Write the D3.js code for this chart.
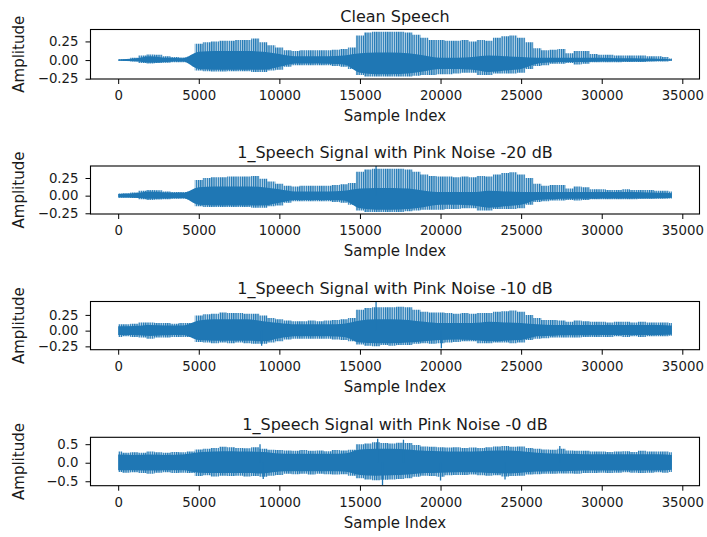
<!DOCTYPE html>
<html>
<head>
<meta charset="utf-8">
<script src="https://cdn.jsdelivr.net/npm/d3@7/dist/d3.min.js"></script>
<style>
  body { margin: 0; background: #fff; }
  text { font-family: "DejaVu Sans", sans-serif; fill: #1a1a1a; }
</style>
</head>
<body>
<svg id="chart" width="707" height="537"></svg>
<script>
// signal length in samples
const nSamples = 34350;

// envelope read every 500 samples (last point = end of signal)
const envIdx = [...d3.range(0, 34001, 500), 34350];
// dense core read every 1000 samples
const coreIdx = [...d3.range(0, 34001, 1000), 34350];

const titles = [
  'Clean Speech',
  '1_Speech Signal with Pink Noise -20 dB',
  '1_Speech Signal with Pink Noise -10 dB',
  '1_Speech Signal with Pink Noise -0 dB'
];

const xTicks = [0, 5000, 10000, 15000, 20000, 25000, 30000, 35000];
const yTicksSmall = [-0.25, 0, 0.25];
const yTicksLarge = [-0.5, 0, 0.5];

// --- Clean Speech
const cleanHi = [0.01, 0.012, 0.03, 0.06, 0.075, 0.07, 0.05, 0.04, 0.035, 0.045,
  0.22, 0.24, 0.25, 0.26, 0.26, 0.27, 0.27, 0.29, 0.24, 0.2,
  0.17, 0.13, 0.12, 0.13, 0.13, 0.13, 0.13, 0.14, 0.15, 0.17,
  0.33, 0.37, 0.38, 0.38, 0.38, 0.38, 0.37, 0.34, 0.3, 0.27,
  0.27, 0.26, 0.26, 0.27, 0.25, 0.27, 0.26, 0.3, 0.32, 0.33,
  0.3, 0.24, 0.16, 0.13, 0.14, 0.15, 0.09, 0.12, 0.12, 0.08,
  0.07, 0.07, 0.06, 0.06, 0.06, 0.06, 0.05, 0.05, 0.04, 0.02];
const cleanLo = [-0.01, -0.012, -0.02, -0.04, -0.045, -0.04, -0.035, -0.03, -0.03, -0.035,
  -0.14, -0.15, -0.155, -0.155, -0.15, -0.15, -0.15, -0.16, -0.16, -0.14,
  -0.13, -0.09, -0.07, -0.07, -0.07, -0.07, -0.07, -0.08, -0.09, -0.12,
  -0.2, -0.22, -0.22, -0.22, -0.22, -0.22, -0.22, -0.21, -0.2, -0.2,
  -0.19, -0.19, -0.18, -0.17, -0.17, -0.2, -0.2, -0.18, -0.18, -0.18,
  -0.17, -0.12, -0.08, -0.07, -0.05, -0.05, -0.04, -0.06, -0.05, -0.03,
  -0.03, -0.03, -0.03, -0.025, -0.025, -0.025, -0.02, -0.02, -0.02, -0.01];
const cleanCoreHi = [0.008, 0.02, 0.05, 0.03, 0.025, 0.11, 0.12, 0.12, 0.12, 0.11,
  0.08, 0.05, 0.05, 0.05, 0.06, 0.09, 0.1, 0.1, 0.09, 0.06,
  0.03, 0.03, 0.04, 0.06, 0.05, 0.04, 0.03, 0.03, 0.03, 0.03,
  0.03, 0.025, 0.025, 0.02, 0.015, 0.01];
const cleanCoreLo = [-0.008, -0.015, -0.035, -0.025, -0.02, -0.12, -0.13, -0.13, -0.13, -0.13,
  -0.09, -0.045, -0.045, -0.05, -0.06, -0.17, -0.19, -0.19, -0.18, -0.15,
  -0.12, -0.12, -0.13, -0.16, -0.14, -0.12, -0.05, -0.03, -0.025, -0.025,
  -0.02, -0.02, -0.02, -0.015, -0.01, -0.008];
const cleanSpikes = [];

// --- Pink noise -20 dB
const n20Hi = [0.03, 0.035, 0.045, 0.07, 0.08, 0.075, 0.06, 0.05, 0.05, 0.055,
  0.22, 0.25, 0.26, 0.26, 0.27, 0.27, 0.27, 0.28, 0.24, 0.2,
  0.17, 0.14, 0.13, 0.14, 0.14, 0.14, 0.14, 0.15, 0.16, 0.18,
  0.34, 0.37, 0.38, 0.38, 0.38, 0.38, 0.37, 0.34, 0.3, 0.28,
  0.27, 0.27, 0.26, 0.27, 0.26, 0.28, 0.27, 0.3, 0.32, 0.33,
  0.3, 0.25, 0.17, 0.14, 0.15, 0.15, 0.1, 0.13, 0.12, 0.09,
  0.09, 0.08, 0.08, 0.09, 0.08, 0.08, 0.08, 0.07, 0.07, 0.06];
const n20Lo = [-0.03, -0.03, -0.035, -0.05, -0.06, -0.055, -0.05, -0.045, -0.045, -0.05,
  -0.15, -0.16, -0.16, -0.16, -0.16, -0.16, -0.16, -0.17, -0.17, -0.15,
  -0.14, -0.1, -0.08, -0.08, -0.08, -0.08, -0.08, -0.09, -0.1, -0.13,
  -0.21, -0.23, -0.23, -0.23, -0.23, -0.23, -0.22, -0.21, -0.2, -0.2,
  -0.2, -0.19, -0.19, -0.18, -0.18, -0.21, -0.21, -0.19, -0.19, -0.19,
  -0.18, -0.13, -0.09, -0.08, -0.07, -0.07, -0.06, -0.07, -0.06, -0.05,
  -0.05, -0.05, -0.05, -0.05, -0.05, -0.045, -0.045, -0.045, -0.045, -0.04];
const n20CoreHi = [0.025, 0.035, 0.06, 0.045, 0.04, 0.12, 0.13, 0.13, 0.13, 0.12,
  0.09, 0.06, 0.06, 0.06, 0.07, 0.1, 0.11, 0.11, 0.1, 0.07,
  0.05, 0.05, 0.05, 0.07, 0.06, 0.05, 0.05, 0.05, 0.05, 0.05,
  0.05, 0.05, 0.05, 0.045, 0.04, 0.035];
const n20CoreLo = [-0.025, -0.03, -0.045, -0.04, -0.035, -0.13, -0.14, -0.14, -0.14, -0.14,
  -0.1, -0.06, -0.06, -0.06, -0.07, -0.18, -0.2, -0.2, -0.19, -0.16,
  -0.13, -0.13, -0.14, -0.17, -0.15, -0.13, -0.06, -0.05, -0.045, -0.045,
  -0.04, -0.04, -0.04, -0.04, -0.035, -0.03];
const n20Spikes = [[16000, 0.42]];

// --- Pink noise -10 dB
const n10Hi = [0.1, 0.1, 0.11, 0.13, 0.13, 0.12, 0.12, 0.11, 0.12, 0.12,
  0.24, 0.26, 0.27, 0.29, 0.28, 0.28, 0.27, 0.27, 0.24, 0.2,
  0.18, 0.16, 0.15, 0.15, 0.16, 0.15, 0.16, 0.17, 0.18, 0.2,
  0.33, 0.36, 0.37, 0.37, 0.37, 0.38, 0.37, 0.33, 0.3, 0.29,
  0.29, 0.28, 0.27, 0.28, 0.27, 0.28, 0.28, 0.3, 0.31, 0.32,
  0.3, 0.25, 0.2, 0.17, 0.17, 0.16, 0.14, 0.16, 0.15, 0.14,
  0.14, 0.13, 0.14, 0.14, 0.13, 0.14, 0.13, 0.13, 0.13, 0.12];
const n10Lo = [-0.1, -0.09, -0.1, -0.11, -0.13, -0.11, -0.11, -0.1, -0.1, -0.1,
  -0.18, -0.19, -0.2, -0.19, -0.2, -0.19, -0.2, -0.21, -0.21, -0.19,
  -0.17, -0.14, -0.13, -0.13, -0.13, -0.13, -0.13, -0.14, -0.15, -0.17,
  -0.22, -0.24, -0.25, -0.23, -0.24, -0.23, -0.23, -0.21, -0.2, -0.21,
  -0.2, -0.19, -0.18, -0.17, -0.17, -0.2, -0.2, -0.19, -0.19, -0.2,
  -0.19, -0.15, -0.13, -0.12, -0.11, -0.11, -0.11, -0.11, -0.1, -0.1,
  -0.1, -0.1, -0.09, -0.1, -0.09, -0.1, -0.09, -0.09, -0.09, -0.08];
const n10CoreHi = [0.07, 0.075, 0.09, 0.08, 0.08, 0.16, 0.18, 0.18, 0.18, 0.15,
  0.12, 0.1, 0.1, 0.1, 0.11, 0.16, 0.18, 0.18, 0.17, 0.14,
  0.12, 0.12, 0.12, 0.14, 0.13, 0.12, 0.1, 0.09, 0.09, 0.09,
  0.09, 0.09, 0.09, 0.09, 0.085, 0.08];
const n10CoreLo = [-0.07, -0.07, -0.085, -0.075, -0.07, -0.15, -0.16, -0.16, -0.16, -0.17,
  -0.12, -0.09, -0.09, -0.09, -0.1, -0.19, -0.2, -0.2, -0.19, -0.17,
  -0.15, -0.14, -0.15, -0.17, -0.16, -0.15, -0.09, -0.08, -0.075, -0.075,
  -0.07, -0.07, -0.07, -0.07, -0.065, -0.06];
const n10Spikes = [[16000, 0.46], [8900, -0.24], [20050, -0.28]];

// --- Pink noise -0 dB
const n0Hi = [0.3, 0.27, 0.28, 0.27, 0.3, 0.28, 0.27, 0.29, 0.28, 0.3,
  0.36, 0.38, 0.4, 0.43, 0.42, 0.4, 0.39, 0.42, 0.38, 0.35,
  0.34, 0.33, 0.32, 0.34, 0.32, 0.33, 0.31, 0.34, 0.33, 0.35,
  0.5, 0.52, 0.55, 0.53, 0.52, 0.54, 0.53, 0.48, 0.44, 0.43,
  0.42, 0.41, 0.42, 0.4, 0.41, 0.4, 0.42, 0.44, 0.45, 0.43,
  0.44, 0.4, 0.38, 0.36, 0.35, 0.38, 0.33, 0.32, 0.32, 0.3,
  0.3, 0.29, 0.3, 0.31, 0.29, 0.32, 0.3, 0.3, 0.3, 0.28];
const n0Lo = [-0.25, -0.27, -0.26, -0.28, -0.3, -0.27, -0.26, -0.28, -0.27, -0.28,
  -0.36, -0.34, -0.37, -0.35, -0.36, -0.35, -0.37, -0.36, -0.38, -0.35,
  -0.33, -0.3, -0.31, -0.3, -0.32, -0.3, -0.31, -0.32, -0.31, -0.35,
  -0.42, -0.45, -0.47, -0.46, -0.45, -0.44, -0.42, -0.38, -0.35, -0.36,
  -0.38, -0.34, -0.33, -0.33, -0.32, -0.34, -0.35, -0.34, -0.37, -0.36,
  -0.35, -0.32, -0.31, -0.3, -0.3, -0.29, -0.29, -0.3, -0.28, -0.28,
  -0.27, -0.28, -0.27, -0.26, -0.27, -0.28, -0.27, -0.26, -0.27, -0.25];
const n0CoreHi = [0.22, 0.21, 0.22, 0.21, 0.22, 0.28, 0.3, 0.31, 0.3, 0.29,
  0.25, 0.24, 0.24, 0.24, 0.25, 0.36, 0.38, 0.38, 0.36, 0.32,
  0.31, 0.3, 0.3, 0.32, 0.33, 0.31, 0.27, 0.25, 0.24, 0.23,
  0.23, 0.23, 0.23, 0.23, 0.22, 0.21];
const n0CoreLo = [-0.2, -0.2, -0.21, -0.2, -0.2, -0.27, -0.28, -0.28, -0.28, -0.29,
  -0.24, -0.23, -0.23, -0.23, -0.24, -0.33, -0.35, -0.34, -0.32, -0.28,
  -0.27, -0.26, -0.26, -0.28, -0.29, -0.27, -0.24, -0.23, -0.22, -0.21,
  -0.21, -0.21, -0.21, -0.21, -0.2, -0.19];
const n0Spikes = [[8800, 0.5], [16100, 0.65], [17700, 0.62], [16400, -0.6],
  [9000, -0.44], [20000, -0.48], [24000, -0.45], [27400, 0.45]];

const panels = [
  { title: titles[0], top: 29.5, bottom: 79, yDomain: [-0.254, 0.41], yTicks: yTicksSmall, fmt: '.2f',
    hi: cleanHi, lo: cleanLo, coreHi: cleanCoreHi, coreLo: cleanCoreLo, spikes: cleanSpikes },
  { title: titles[1], top: 166, bottom: 214, yDomain: [-0.26, 0.42], yTicks: yTicksSmall, fmt: '.2f',
    hi: n20Hi, lo: n20Lo, coreHi: n20CoreHi, coreLo: n20CoreLo, spikes: n20Spikes },
  { title: titles[2], top: 301.5, bottom: 349.7, yDomain: [-0.303, 0.463], yTicks: yTicksSmall, fmt: '.2f',
    hi: n10Hi, lo: n10Lo, coreHi: n10CoreHi, coreLo: n10CoreLo, spikes: n10Spikes },
  { title: titles[3], top: 437.3, bottom: 485.7, yDomain: [-0.62, 0.686], yTicks: yTicksLarge, fmt: '.1f',
    hi: n0Hi, lo: n0Lo, coreHi: n0CoreHi, coreLo: n0CoreLo, spikes: n0Spikes }
];

const LEFT = 90.5, RIGHT = 699.5;
const BLUE = '#1f77b4';

const svg = d3.select('#chart');

// vertical stripes to imitate the pitch pulses
const defs = svg.append('defs');
const pat = defs.append('pattern')
  .attr('id', 'stripes')
  .attr('patternUnits', 'userSpaceOnUse')
  .attr('width', 2.2)
  .attr('height', 10);
pat.append('rect').attr('width', 2.2).attr('height', 10).attr('fill', BLUE).attr('fill-opacity', 0.3);
pat.append('rect').attr('width', 1.2).attr('height', 10).attr('fill', BLUE);

const xPad = 0.05 * (nSamples - 1);
const x = d3.scaleLinear()
  .domain([-xPad, nSamples - 1 + xPad])
  .range([LEFT, RIGHT]);

panels.forEach((p, k) => {
  const y = d3.scaleLinear().domain(p.yDomain).range([p.bottom, p.top]);
  const g = svg.append('g');

  defs.append('clipPath').attr('id', 'clip' + k)
    .append('rect')
    .attr('x', LEFT).attr('y', p.top)
    .attr('width', RIGHT - LEFT).attr('height', p.bottom - p.top);

  const plot = g.append('g').attr('clip-path', `url(#clip${k})`);

  const env = d3.area()
    .x((d, i) => x(envIdx[i]))
    .y0((d, i) => y(p.lo[i]))
    .y1((d, i) => y(p.hi[i]))
    .curve(d3.curveStep);
  plot.append('path')
    .datum(p.hi)
    .attr('d', env)
    .attr('fill', 'url(#stripes)');

  const core = d3.area()
    .x((d, i) => x(coreIdx[i]))
    .y0((d, i) => y(p.coreLo[i]))
    .y1((d, i) => y(p.coreHi[i]))
    .curve(d3.curveMonotoneX);
  plot.append('path')
    .datum(p.coreHi)
    .attr('d', core)
    .attr('fill', BLUE);

  // single peaks that stick out of the envelope
  plot.selectAll('line.spike')
    .data(p.spikes)
    .join('line')
    .attr('class', 'spike')
    .attr('x1', d => x(d[0])).attr('x2', d => x(d[0]))
    .attr('y1', y(0)).attr('y2', d => y(d[1]))
    .attr('stroke', BLUE).attr('stroke-width', 1.3);

  // axes
  const xAxis = d3.axisBottom(x).tickValues(xTicks).tickFormat(d3.format('d'))
    .tickSize(5).tickPadding(6.5).tickSizeOuter(0);
  const gx = g.append('g').attr('transform', `translate(0,${p.bottom})`).call(xAxis);
  gx.select('.domain').remove();

  const yAxis = d3.axisLeft(y).tickValues(p.yTicks).tickFormat(d3.format(p.fmt))
    .tickSize(5).tickPadding(7).tickSizeOuter(0);
  const gy = g.append('g').attr('transform', `translate(${LEFT},0)`).call(yAxis);
  gy.select('.domain').remove();

  [gx, gy].forEach(a => {
    a.selectAll('text').attr('font-size', 13.3).attr('font-family', '"DejaVu Sans", sans-serif').attr('fill', '#1a1a1a');
    a.selectAll('line').attr('stroke', '#000').attr('stroke-width', 1);
  });

  g.append('rect')
    .attr('x', LEFT).attr('y', p.top)
    .attr('width', RIGHT - LEFT).attr('height', p.bottom - p.top)
    .attr('fill', 'none').attr('stroke', '#000').attr('stroke-width', 1.1);

  const cx = (LEFT + RIGHT) / 2;
  g.append('text')
    .attr('x', cx).attr('y', p.top - 7.6)
    .attr('text-anchor', 'middle')
    .attr('font-size', 16)
    .text(p.title);

  g.append('text')
    .attr('x', cx).attr('y', p.bottom + 42)
    .attr('text-anchor', 'middle')
    .attr('font-size', 15)
    .text('Sample Index');

  g.append('text')
    .attr('transform', `translate(24,${(p.top + p.bottom) / 2}) rotate(-90)`)
    .attr('text-anchor', 'middle')
    .attr('font-size', 15)
    .text('Amplitude');
});
</script>
</body>
</html>
